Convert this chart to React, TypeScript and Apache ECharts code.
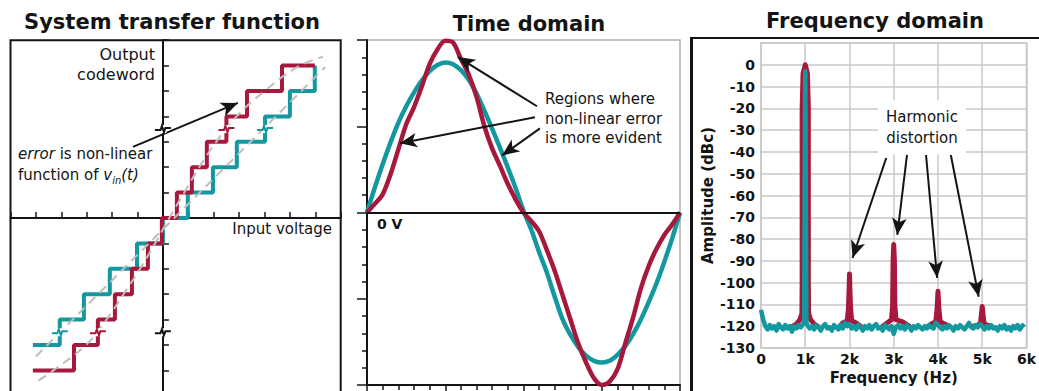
import React, { useEffect, useRef } from 'react';
import * as echarts from 'echarts';

const TEAL = '#13989f';
const RED = '#a6193c';
const GRAY = '#bdbdbd';
const INK = '#141414';
const FONT = "'DejaVu Sans', sans-serif";

// ---------- Panel 1: system transfer function (units = ticks) ----------
const redStepStart = -5.12;
const redEdges = [-3.5, -2.56, -1.89, -1.22, -0.59, -0.04, 0.55, 1.14, 1.73, 2.5, 3.31, 4.69];
const redStepEnd = 5.98;
const redLowLevel = -6;
const tealStepStart = -5.12;
const tealEdges = [-4.06, -3.11, -2.09, -1.02, 0.0, 0.98, 1.97, 2.91, 4.02, 5.0, 5.98];
const tealStepEnd = 5.98;
const tealLowLevel = -5;
const redIdealCurve = [
  [-4.9, -6.4], [-4.31, -6], [-3.03, -5], [-2.22, -4], [-1.55, -3], [-0.9, -2], [-0.31, -1],
  [0.25, 0], [0.84, 1], [1.43, 2], [2.1, 3], [2.9, 4], [4.0, 5], [5.3, 5.95], [6.3, 6.35],
];
const tealIdealLine = [[-5.0, -5.45], [6.4, 5.95]];
const axisBreaks = [3.5, -4.5];

// ---------- Panel 2: time domain ----------
const timeStep = 0.5;
const tealWave = [
  0, 1.45, 2.8, 4.05, 5.2, 6.15, 6.95, 7.65, 8.2, 8.55, 8.7, 8.6, 8.25, 7.7, 6.9, 5.9, 4.85, 3.75, 2.6, 1.4,
  0.1, -1.0, -2.3, -3.5, -4.9, -6.2, -7.1, -7.8, -8.3, -8.6, -8.7, -8.6, -8.25, -7.75, -7.05, -6.2, -5.2, -4.1, -2.85, -1.5, 0,
];
const redWave = [
  0, 0.5, 1.05, 2.2, 3.65, 5.1, 6.1, 7.3, 8.6, 9.45, 9.95, 9.85, 8.9, 8.0, 6.7, 5.0, 3.7, 2.7, 1.65, 0.75,
  0, -0.5, -1.1, -2.2, -3.4, -4.8, -6.2, -7.6, -8.7, -9.6, -10, -9.8, -9.1, -7.6, -6.1, -4.4, -3.1, -2.1, -1.3, -0.7, 0,
];

// ---------- Panel 3: frequency domain ----------
const freqStep = 0.05; // kHz
const tealFloor = [
  -112.5, -117, -120, -121.5, -119.5, -121, -120, -122, -119, -120.5,
  -121.5, -119.5, -121, -120, -122.5, -120, -121, -119.5, -120.5, -119,
  -118, -119.5, -121, -120, -121.5, -119.5, -120.5, -122, -120, -119,
  -121, -120.5, -122, -119.5, -120.5, -121.5, -119.5, -121, -118.5, -120,
  -119, -121, -120, -121.5, -119.5, -120.5, -122, -120, -121, -119.5,
  -121.5, -120, -119, -121, -120.5, -122, -119.5, -120.5, -121.5, -120,
  -123.5, -120.5, -119.5, -121, -120, -121.5, -119.5, -120.5, -122, -120,
  -121, -119.5, -120.5, -121.5, -120, -121, -119.5, -120.5, -121, -118.5,
  -119.5, -120.5, -121.5, -120, -121, -119.5, -120.5, -122, -120, -121,
  -119.5, -120.5, -121.5, -120, -118.5, -120.5, -121, -119.5, -120.5, -119,
  -120, -121.5, -120, -121, -119.5, -121, -120.5, -122, -120, -121,
  -119.5, -121.5, -120.5, -122, -120, -121, -119.5, -121.5, -120, -119,
];
const tealFundFreq = [0.975, 0.995, 1.0, 1.005, 1.025];
const tealFundAmp = [-118, -20, -3, -20, -118];
const redPeaks = [
  [[0.72, -120], [0.8, -119], [0.88, -117], [0.925, -114], [0.93, -100], [0.93, -20], [0.95, -4], [1.0, 0], [1.05, -4], [1.07, -20], [1.07, -100], [1.075, -114], [1.12, -117], [1.2, -119], [1.28, -120]],
  [[1.78, -120], [1.85, -118.5], [1.95, -117.5], [1.975, -112], [1.99, -104], [2.0, -96], [2.01, -104], [2.025, -112], [2.05, -117.5], [2.15, -118.5], [2.25, -120]],
  [[2.75, -120], [2.85, -118.5], [2.95, -117], [2.975, -110], [2.985, -90], [3.0, -82.5], [3.015, -90], [3.025, -110], [3.05, -117], [3.2, -118], [3.35, -120]],
  [[3.78, -120], [3.85, -119], [3.95, -118], [3.98, -112], [4.0, -104], [4.02, -112], [4.05, -118], [4.15, -119], [4.25, -120]],
  [[4.8, -120], [4.9, -119.5], [4.96, -118.5], [4.98, -115], [5.0, -111], [5.02, -115], [5.04, -118.5], [5.1, -119.5], [5.2, -120]],
];
const freqTickLabels = ['0', '1k', '2k', '3k', '4k', '5k', '6k'];

// arrows (data coordinates)
const arrowP1 = [[-1.18, 2.8], [2.95, 4.53]];
const arrowsP2 = [
  [[10.86, 6.16], [5.81, 9.01]],
  [[10.73, 5.52], [2.11, 4.01]],
  [[11.05, 4.88], [8.63, 3.31]],
];
const arrowsP3 = [
  [[2.83, -42.8], [2.07, -88.6]],
  [[3.3, -41.4], [3.08, -78.1]],
  [[3.73, -41.4], [3.98, -97.8]],
  [[4.29, -41.4], [4.92, -106.5]],
];

function buildSteps(start: number, edges: number[], end: number, low: number) {
  const pts: number[][] = [[start, low]];
  edges.forEach((e, i) => {
    pts.push([e, low + i]);
    pts.push([e, low + i + 1]);
  });
  pts.push([end, low + edges.length]);
  return pts;
}

const arrowMark = (pairs: number[][][]) => ({
  silent: true,
  symbol: ['none', 'arrow'],
  symbolSize: [11, 17],
  lineStyle: { color: INK, width: 2, type: 'solid' },
  label: { show: false },
  emphasis: { disabled: true },
  data: pairs.map((p) => [{ coord: p[0] }, { coord: p[1] }]),
});

export default function App() {
  const ref = useRef<HTMLDivElement>(null);
  useEffect(() => {
    if (!ref.current) return;
    const chart = echarts.init(ref.current, undefined, { renderer: 'svg' });

    const redSteps = buildSteps(redStepStart, redEdges, redStepEnd, redLowLevel);
    const tealSteps = buildSteps(tealStepStart, tealEdges, tealStepEnd, tealLowLevel);
    const breakData = [
      [0, axisBreaks[0], 0],
      [0, axisBreaks[1], 0],
      [redEdges[9], axisBreaks[0], 1],
      [redEdges[1], axisBreaks[1], 1],
      [tealEdges[8], axisBreaks[0], 2],
      [tealEdges[0], axisBreaks[1], 2],
    ];

    const tealWaveData = tealWave.map((v, i) => [i * timeStep, v]);
    const redWaveData = redWave.map((v, i) => [i * timeStep, v]);

    const tealSpec: number[][] = [];
    tealFloor.forEach((v, i) => {
      const f = i * freqStep;
      if (Math.abs(f - 1) < 0.03) {
        if (tealSpec.length && tealSpec[tealSpec.length - 1][0] < 0.97) {
          tealFundFreq.forEach((ff, j) => tealSpec.push([ff, tealFundAmp[j]]));
        }
        return;
      }
      tealSpec.push([f, v]);
    });

    const labelFont = { fontFamily: FONT, fontWeight: 'bold', fontSize: 14, color: INK };

    const option: any = {
      animation: false,
      grid: [
        { left: 10.5, top: 40.2, width: 330.2, height: 381, show: true, borderColor: INK, borderWidth: 2 },
        { left: 367, top: 40, width: 313, height: 345, show: true, borderColor: '#b0b0b0', borderWidth: 1.5 },
        { left: 761, top: 43, width: 267, height: 305, show: true, borderColor: '#c8c8c8', borderWidth: 1.5 },
      ],
      xAxis: [
        {
          gridIndex: 0, type: 'value', min: -6, max: 7, interval: 1,
          axisLine: { onZero: true, lineStyle: { color: INK, width: 2 } },
          axisTick: { inside: true, length: 6, lineStyle: { color: INK, width: 1.5 } },
          axisLabel: { show: false }, splitLine: { show: false },
        },
        {
          gridIndex: 1, type: 'value', min: 0, max: 20, interval: 5,
          axisLine: { onZero: false, lineStyle: { color: INK, width: 2 } },
          axisTick: { length: 10, lineStyle: { color: INK, width: 1.5 } },
          minorTick: { show: true, splitNumber: 5, length: 5, lineStyle: { color: INK, width: 1.5 } },
          axisLabel: { show: false }, splitLine: { show: false },
        },
        {
          gridIndex: 2, type: 'value', min: 0, max: 6, interval: 1,
          axisLine: { show: false }, axisTick: { show: false },
          axisLabel: { ...labelFont, margin: 4, showMinLabel: true, showMaxLabel: true, formatter: (v: number) => freqTickLabels[Math.round(v)] ?? '' },
          splitLine: { show: true, lineStyle: { color: '#c8c8c8', width: 1.5 } },
          name: 'Frequency (Hz)', nameLocation: 'middle', nameGap: 22,
          nameTextStyle: { fontFamily: FONT, fontWeight: 'bold', fontSize: 15, color: INK },
        },
      ],
      yAxis: [
        {
          gridIndex: 0, type: 'value', min: -8, max: 7, interval: 1,
          axisLine: { onZero: true, lineStyle: { color: INK, width: 2 } },
          axisTick: { inside: true, length: 6, lineStyle: { color: INK, width: 1.5 } },
          axisLabel: { show: false }, splitLine: { show: false },
        },
        {
          gridIndex: 1, type: 'value', min: -10, max: 10, interval: 5,
          axisLine: { onZero: false, lineStyle: { color: INK, width: 2 } },
          axisTick: { length: 10, lineStyle: { color: INK, width: 1.5 } },
          minorTick: { show: true, splitNumber: 5, length: 5, lineStyle: { color: INK, width: 1.5 } },
          axisLabel: { show: false }, splitLine: { show: false },
        },
        {
          gridIndex: 2, type: 'value', min: -130, max: 10, interval: 10,
          axisLine: { show: false }, axisTick: { show: false },
          axisLabel: { ...labelFont, margin: 6, formatter: (v: number) => (v > 0 ? '' : String(v)) },
          splitLine: { show: true, lineStyle: { color: '#c8c8c8', width: 1.5 } },
          name: 'Amplitude (dBc)', nameLocation: 'middle', nameGap: 46, nameRotate: 90,
          nameTextStyle: { fontFamily: FONT, fontWeight: 'bold', fontSize: 15, color: INK },
        },
      ],
      series: [
        // Panel 1
        {
          type: 'line', xAxisIndex: 0, yAxisIndex: 0, data: tealSteps, symbol: 'none', z: 2,
          lineStyle: { color: TEAL, width: 4 }, silent: true,
        },
        {
          type: 'line', xAxisIndex: 0, yAxisIndex: 0, data: redSteps, symbol: 'none', z: 3,
          lineStyle: { color: RED, width: 4 }, silent: true,
        },
        {
          type: 'line', xAxisIndex: 0, yAxisIndex: 0, data: tealIdealLine, symbol: 'none', z: 4,
          lineStyle: { color: GRAY, width: 2, type: [9, 6] }, silent: true,
          markLine: arrowMark([arrowP1]),
        },
        {
          type: 'line', xAxisIndex: 0, yAxisIndex: 0, data: redIdealCurve, symbol: 'none', smooth: 0.4, z: 4,
          lineStyle: { color: GRAY, width: 2, type: [9, 6] }, silent: true,
        },
        {
          type: 'custom', xAxisIndex: 0, yAxisIndex: 0, data: breakData, z: 6, silent: true,
          renderItem: (params: any, api: any) => {
            const p = api.coord([api.value(0), api.value(1)]);
            const c = [INK, RED, TEAL][api.value(2)];
            return {
              type: 'group', x: p[0], y: p[1],
              children: [
                { type: 'rect', shape: { x: -3.5, y: -4, width: 7, height: 8 }, style: { fill: '#fff' } },
                {
                  type: 'polyline',
                  shape: { points: [[-8, 1], [-2.5, 1], [-1, -3], [1, 3], [2.5, -1], [8, -1]] },
                  style: { stroke: c, lineWidth: 2, fill: 'none' },
                },
              ],
            };
          },
        },
        // Panel 2
        {
          type: 'line', xAxisIndex: 1, yAxisIndex: 1, data: tealWaveData, symbol: 'none', smooth: 0.3, z: 2,
          lineStyle: { color: TEAL, width: 4.5 }, silent: true,
          markLine: {
            silent: true, symbol: 'none', label: { show: false },
            lineStyle: { color: INK, width: 2, type: 'solid' },
            data: [{ yAxis: 0 }],
          },
        },
        {
          type: 'line', xAxisIndex: 1, yAxisIndex: 1, data: redWaveData, symbol: 'none', smooth: 0.3, z: 3,
          lineStyle: { color: RED, width: 4.5 }, silent: true,
          markLine: arrowMark(arrowsP2),
        },
        // Panel 3
        ...redPeaks.map((pk) => ({
          type: 'line', xAxisIndex: 2, yAxisIndex: 2, data: pk, symbol: 'none', z: 2,
          lineStyle: { color: RED, width: 5, join: 'round', cap: 'round' }, silent: true,
        })),
        {
          type: 'line', xAxisIndex: 2, yAxisIndex: 2, data: tealSpec, symbol: 'none', z: 3,
          lineStyle: { color: TEAL, width: 4.5, join: 'round' }, silent: true,
          markLine: arrowMark(arrowsP3),
        },
      ],
      graphic: [
        { type: 'text', x: 172, y: 22, style: { text: 'System transfer function', font: `bold 21px ${FONT}`, fill: INK, align: 'center', verticalAlign: 'middle' } },
        { type: 'text', x: 529, y: 24, style: { text: 'Time domain', font: `bold 21px ${FONT}`, fill: INK, align: 'center', verticalAlign: 'middle' } },
        { type: 'text', x: 875, y: 21, style: { text: 'Frequency domain', font: `bold 21px ${FONT}`, fill: INK, align: 'center', verticalAlign: 'middle' } },
        { type: 'text', x: 155, y: 64, style: { text: 'Output\ncodeword', font: `16px ${FONT}`, lineHeight: 20, fill: INK, align: 'right', verticalAlign: 'middle' } },
        { type: 'text', x: 332, y: 228.5, style: { text: 'Input voltage', font: `15px ${FONT}`, fill: INK, align: 'right', verticalAlign: 'middle' } },
        {
          type: 'text', x: 18, y: 164.5,
          style: {
            text: '{i|error} is non-linear\nfunction of {i|v}{s|in}{i|(t)}',
            font: `15px ${FONT}`, lineHeight: 21, fill: INK, align: 'left', verticalAlign: 'middle',
            rich: {
              i: { fontFamily: FONT, fontStyle: 'italic', fontSize: 15, lineHeight: 21, fill: INK },
              s: { fontFamily: FONT, fontStyle: 'italic', fontSize: 10, lineHeight: 21, verticalAlign: 'bottom', fill: INK },
            },
          },
        },
        { type: 'text', x: 377, y: 224, style: { text: '0 V', font: `bold 14px ${FONT}`, fill: INK, align: 'left', verticalAlign: 'middle' } },
        { type: 'text', x: 545, y: 118.5, style: { text: 'Regions where\nnon-linear error\nis more evident', font: `15px ${FONT}`, lineHeight: 19.5, fill: INK, align: 'left', verticalAlign: 'middle' } },
        {
          type: 'text', x: 922, y: 127.5, z: 10,
          style: { text: 'Harmonic\ndistortion', font: `15px ${FONT}`, lineHeight: 21, fill: INK, align: 'center', verticalAlign: 'middle', backgroundColor: '#fff', padding: [6, 8] },
        },
        { type: 'line', shape: { x1: 691.5, y1: 37, x2: 691.5, y2: 440 }, style: { stroke: INK, lineWidth: 3 } },
        { type: 'line', shape: { x1: 690, y1: 38, x2: 1045, y2: 38 }, style: { stroke: INK, lineWidth: 2 } },
      ],
    };
    chart.setOption(option);
    return () => chart.dispose();
  }, []);
  return <div ref={ref} style={{ position: 'fixed', left: 0, top: 0, width: 1039, height: 440, background: '#fff' }} />;
}
